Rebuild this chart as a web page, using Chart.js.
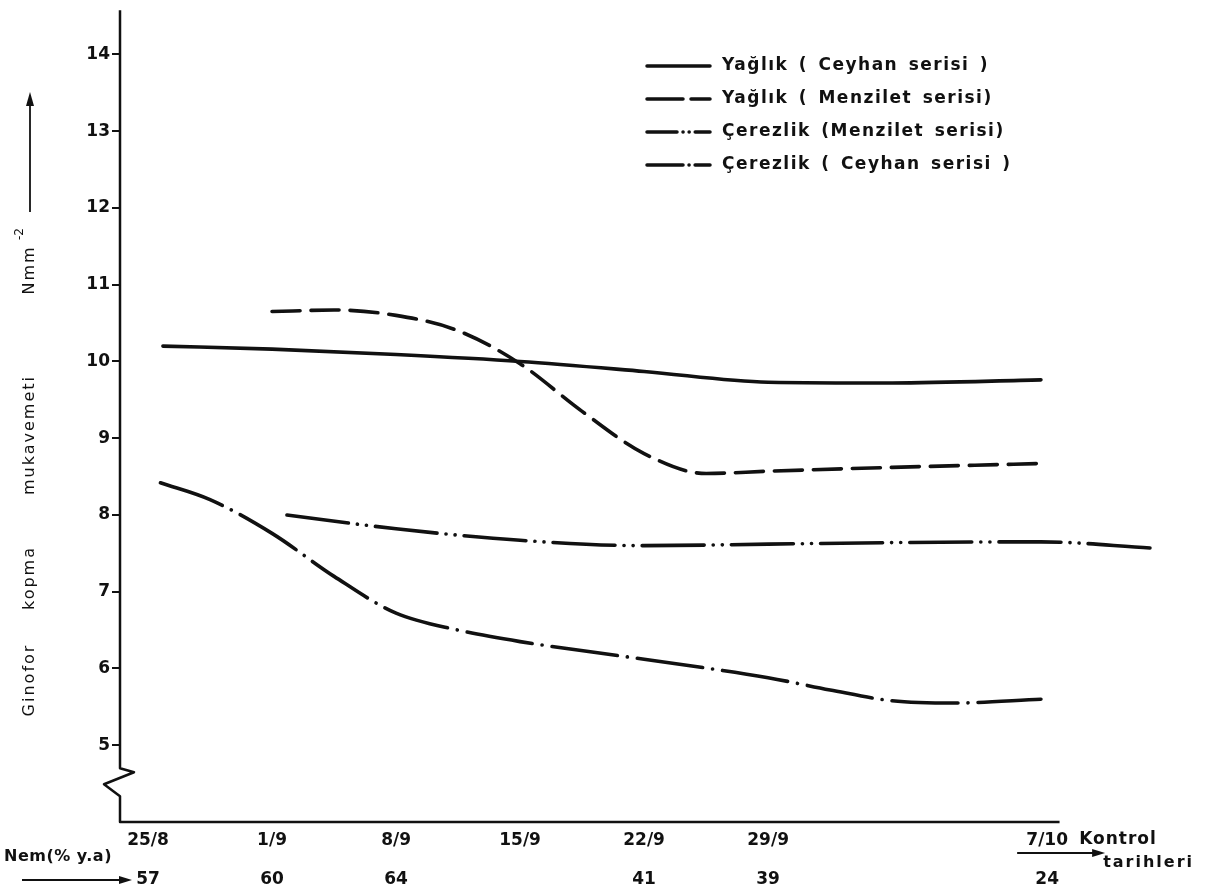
<!DOCTYPE html>
<html>
<head>
<meta charset="utf-8">
<script src="https://cdn.jsdelivr.net/npm/chart.js@4.4.1/dist/chart.umd.min.js"></script>
<style>
  html, body { margin: 0; padding: 0; background: #fff; }
  #wrap { width: 1224px; height: 894px; }
</style>
</head>
<body>
<div id="wrap"><canvas id="chart" width="1224" height="894"></canvas></div>
<script>
/* ---------------------------------------------------------
   Data
--------------------------------------------------------- */
// control dates and the slot each one occupies on the drawn axis
const dates = ["25/8", "1/9", "8/9", "15/9", "22/9", "29/9", "7/10"];
const dateSlots = [0, 1, 2, 3, 4, 5, 7.25];
const nem = ["57", "60", "64", "", "41", "39", "24"];
const yTicks = [5, 6, 7, 8, 9, 10, 11, 12, 13, 14];

// Yağlık (Ceyhan serisi)
const yagCeyX = [0.12, 1, 2, 3, 4, 5, 6, 7.2];
const yagCeyY = [10.2, 10.16, 10.09, 10.0, 9.87, 9.73, 9.72, 9.76];

// Yağlık (Menzilet serisi)
const yagMenX = [1, 1.5, 2, 2.5, 3, 3.5, 4, 4.5, 5, 6, 7.2];
const yagMenY = [10.65, 10.67, 10.6, 10.4, 9.97, 9.35, 8.8, 8.54, 8.57, 8.62, 8.67];

// Çerezlik (Menzilet serisi)
const cerMenX = [1.12, 2, 3, 4, 5, 6, 7.2, 8.08];
const cerMenY = [8.0, 7.82, 7.67, 7.6, 7.62, 7.64, 7.65, 7.57];

// Çerezlik (Ceyhan serisi)
const cerCeyX = [0.1, 0.5, 1, 1.5, 2, 2.5, 3, 4, 5, 5.5, 6, 6.5, 7.2];
const cerCeyY = [8.42, 8.2, 7.76, 7.2, 6.72, 6.5, 6.35, 6.12, 5.88, 5.72, 5.58, 5.55, 5.6];

const ink = "#111";
const FONT = "'DejaVu Sans', 'Liberation Sans', sans-serif";

const pts = (xs, ys) => xs.map((x, i) => ({ x, y: ys[i] }));

/* ---------------------------------------------------------
   Hand-drawn looking axes with the break on the y axis
--------------------------------------------------------- */
const axisLines = {
  id: "axisLines",
  afterDraw(chart) {
    const { ctx, chartArea: a, scales: { x, y } } = chart;
    const L = a.left;
    const bottom = y.getPixelForValue(4);
    const b1 = y.getPixelForValue(4.7);
    ctx.save();
    ctx.strokeStyle = ink;
    ctx.fillStyle = ink;
    ctx.lineWidth = 2.5;
    ctx.lineJoin = "round";
    ctx.beginPath();
    ctx.moveTo(L, a.top - 2);
    ctx.lineTo(L, b1);
    ctx.lineTo(L + 14, b1 + 4);
    ctx.lineTo(L - 16, b1 + 16);
    ctx.lineTo(L, b1 + 28);
    ctx.lineTo(L, bottom);
    ctx.lineTo(x.getPixelForValue(7.35), bottom);
    ctx.stroke();

    // underline + arrow under "7/10"
    const ux = x.getPixelForValue(7.25);
    const uy = bottom + 31;
    ctx.lineWidth = 2;
    ctx.beginPath();
    ctx.moveTo(ux - 30, uy);
    ctx.lineTo(ux + 48, uy);
    ctx.stroke();
    ctx.beginPath();
    ctx.moveTo(ux + 58, uy);
    ctx.lineTo(ux + 45, uy - 4);
    ctx.lineTo(ux + 45, uy + 4);
    ctx.closePath();
    ctx.fill();

    ctx.textBaseline = "middle";
    ctx.textAlign = "left";
    ctx.font = "bold 17px " + FONT;
    ctx.letterSpacing = "1px";
    ctx.fillText("Kontrol", ux + 32, bottom + 18);
    ctx.font = "bold 16px " + FONT;
    ctx.letterSpacing = "2px";
    ctx.fillText("tarihleri", ux + 56, bottom + 41);

    // Nem row caption with arrow to the first value
    ctx.font = "bold 16px " + FONT;
    ctx.letterSpacing = "0.5px";
    ctx.fillText("Nem(% y.a)", 4, bottom + 35);
    ctx.letterSpacing = "0px";
    const ay = bottom + 58;
    ctx.beginPath();
    ctx.moveTo(22, ay);
    ctx.lineTo(120, ay);
    ctx.stroke();
    ctx.beginPath();
    ctx.moveTo(132, ay);
    ctx.lineTo(119, ay - 4);
    ctx.lineTo(119, ay + 4);
    ctx.closePath();
    ctx.fill();

    // rotated y title with arrow
    ctx.translate(30, 0);
    ctx.rotate(-Math.PI / 2);
    ctx.font = "16px " + FONT;
    ctx.letterSpacing = "2px";
    ctx.textAlign = "center";
    ctx.fillText("Ginofor", -680, 0);
    ctx.fillText("kopma", -578, 0);
    ctx.fillText("mukavemeti", -435, 0);
    ctx.fillText("Nmm", -270, 0);
    ctx.font = "12px " + FONT;
    ctx.letterSpacing = "0px";
    ctx.fillText("-2", -234, -10);
    ctx.lineWidth = 1.8;
    ctx.beginPath();
    ctx.moveTo(-212, 0);
    ctx.lineTo(-102, 0);
    ctx.stroke();
    ctx.beginPath();
    ctx.moveTo(-92, 0);
    ctx.lineTo(-106, -4);
    ctx.lineTo(-106, 4);
    ctx.closePath();
    ctx.fill();
    ctx.restore();
  },
};

/* ---------------------------------------------------------
   Legend drawn as line samples + labels (top right)
--------------------------------------------------------- */
const sampleLegend = {
  id: "sampleLegend",
  afterDraw(chart) {
    const { ctx } = chart;
    ctx.save();
    ctx.font = "bold 17px " + FONT;
    ctx.letterSpacing = "1.5px";
    ctx.wordSpacing = "3px";
    ctx.textBaseline = "middle";
    ctx.fillStyle = ink;
    chart.data.datasets.forEach((ds, i) => {
      const yy = 66 + i * 33;
      ctx.strokeStyle = ink;
      ctx.lineWidth = 3.5;
      ctx.lineCap = "round";
      ctx.setLineDash(ds.legendDash || []);
      ctx.beginPath();
      ctx.moveTo(647, yy);
      ctx.lineTo(710, yy);
      ctx.stroke();
      ctx.setLineDash([]);
      ctx.fillText(ds.label, 722, yy);
    });
    ctx.restore();
  },
};

const lineStyle = {
  borderColor: ink,
  borderWidth: 3.6,
  borderCapStyle: "round",
  pointRadius: 0,
  fill: false,
  cubicInterpolationMode: "monotone",
};

new Chart(document.getElementById("chart").getContext("2d"), {
  type: "line",
  data: {
    datasets: [
      { ...lineStyle, label: "Yağlık ( Ceyhan serisi )", data: pts(yagCeyX, yagCeyY) },
      { ...lineStyle, label: "Yağlık ( Menzilet serisi)", data: pts(yagMenX, yagMenY),
        borderDash: [28, 11], legendDash: [36, 8] },
      { ...lineStyle, label: "Çerezlik (Menzilet serisi)", data: pts(cerMenX, cerMenY),
        borderDash: [62, 9, 0.1, 9, 0.1, 9], legendDash: [30, 6, 0.1, 6, 0.1, 6] },
      { ...lineStyle, label: "Çerezlik ( Ceyhan serisi )", data: pts(cerCeyX, cerCeyY),
        borderDash: [66, 10, 0.1, 10], legendDash: [36, 6, 0.1, 6] },
    ],
  },
  options: {
    responsive: false,
    animation: false,
    layout: { padding: { top: 10, right: 64, left: 0, bottom: 0 } },
    plugins: { legend: { display: false }, tooltip: { enabled: false } },
    scales: {
      x: {
        type: "linear",
        min: -0.226,
        max: 8.16,
        afterBuildTicks: (scale) => { scale.ticks = dateSlots.map((v) => ({ value: v })); },
        afterFit: (scale) => { scale.height = 72; },
        grid: { display: false },
        border: { display: false },
        ticks: {
          autoSkip: false,
          maxRotation: 0,
          padding: -9,
          color: ink,
          font: { family: FONT, size: 17, weight: "bold", lineHeight: 2.3 },
          callback: (v, i) => [dates[i], nem[i]],
        },
      },
      y: {
        min: 4,
        max: 14.55,
        afterBuildTicks: (scale) => { scale.ticks = yTicks.map((v) => ({ value: v })); },
        afterFit: (scale) => { scale.width = 120; },
        grid: { drawOnChartArea: false, drawTicks: true, tickLength: 8, color: ink, lineWidth: 2 },
        border: { display: false },
        ticks: {
          padding: 2,
          color: ink,
          font: { family: FONT, size: 17, weight: "bold" },
        },
      },
    },
  },
  plugins: [axisLines, sampleLegend],
});
</script>
</body>
</html>
